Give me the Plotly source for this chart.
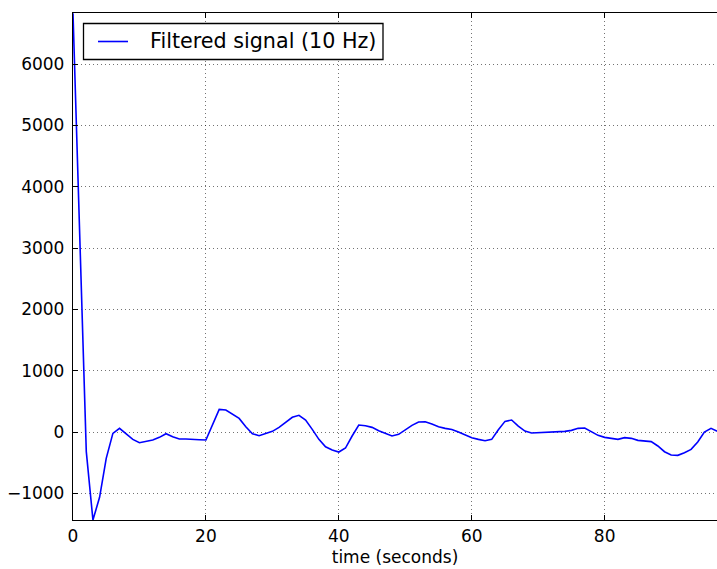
import plotly.graph_objects as go

time_s = list(range(0, 98))
filtered = [
    6830, 3180, -320, -1435, -1065, -430, -22, 60, -33, -120,
    -174, -147, -130, -87, -27, -76, -114, -114, -114, -125,
    -130, 135, 370, 360, 293, 222, 87, -27, -60, -27,
    11, 76, 152, 240, 272, 196, 43, -120, -240, -294,
    -326, -261, -65, 114, 103, 76, 22, -27, -65, -38,
    38, 109, 163, 168, 130, 87, 60, 40, 0, -50,
    -93, -120, -141, -120, 38, 174, 196, 98, 16, -16,
    -11, -5, 0, 5, 11, 27, 60, 65, 11, -54,
    -87, -109, -120, -92, -103, -136, -141, -157, -228, -321,
    -375, -380, -337, -283, -163, 0, 60, 11,
]
y_ticks = [-1000, 0, 1000, 2000, 3000, 4000, 5000, 6000]
x_ticks = [0, 20, 40, 60, 80]
series_name = "Filtered signal (10 Hz)"

font = "DejaVu Sans"
W, H = 717, 569
ML, MT, MB = 73, 13, 49
PW, PH = W - ML, H - MT - MB


def px(x):
    return (x - ML) / PW


def py(y):
    return 1 - (y - MT) / PH


fig = go.Figure()
fig.add_trace(go.Scatter(
    x=time_s, y=filtered, mode="lines",
    name=series_name, showlegend=False,
    line=dict(color="#0000ff", width=1.6),
))

# legend drawn manually (box, line sample, label)
fig.add_shape(type="rect", xref="paper", yref="paper",
              x0=px(83.5), x1=px(383), y0=py(59.5), y1=py(23.5),
              line=dict(color="black", width=1.3), fillcolor="white", layer="above")
fig.add_shape(type="line", xref="paper", yref="paper",
              x0=px(98), x1=px(128), y0=py(41.5), y1=py(41.5),
              line=dict(color="#0000ff", width=1.6), layer="above")
fig.add_annotation(xref="paper", yref="paper", x=px(148), y=py(41.5),
                   xanchor="left", yanchor="middle", showarrow=False,
                   text=series_name, font=dict(family=font, size=20.7, color="black"))

grid = dict(showgrid=True, gridcolor="rgba(0,0,0,0.55)", gridwidth=1, griddash="1px,3px")

fig.update_layout(
    width=W, height=H,
    margin=dict(l=ML, r=0, t=MT, b=MB),
    paper_bgcolor="white", plot_bgcolor="white",
    font=dict(family=font, size=16, color="black"),
    showlegend=False,
    xaxis=dict(
        range=[0, 96.9], tickvals=x_ticks, ticks="inside", ticklen=5,
        tickcolor="black", showline=True, linecolor="black", linewidth=1.3,
        mirror="ticks", zeroline=False,
        title=dict(text="time (seconds)", font=dict(family=font, size=17), standoff=6),
        tickfont=dict(family=font, size=17),
        **grid,
    ),
    yaxis=dict(
        range=[-1435, 6835], tickvals=y_ticks, ticks="inside", ticklen=5,
        tickcolor="black", showline=True, linecolor="black", linewidth=1.3,
        zeroline=False, tickfont=dict(family=font, size=17), ticklabelstandoff=4,
        **grid,
    ),
)

fig.write_html("out.html")
